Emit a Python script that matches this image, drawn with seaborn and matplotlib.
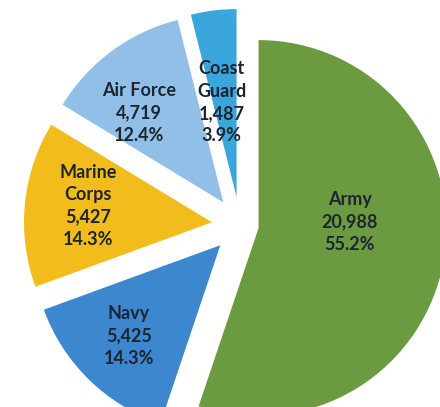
import numpy as np
import matplotlib
matplotlib.use("Agg")
import matplotlib.pyplot as plt
import seaborn as sns

# service branches, clockwise from 12 o'clock
branches = ["Army", "Navy", "Marine\nCorps", "Air Force", "Coast\nGuard"]
counts = [20988, 5425, 5427, 4719, 1487]
pcts = ["55.2%", "14.3%", "14.3%", "12.4%", "3.9%"]
colors = ["#6b9a40", "#3d87cf", "#f2bd1c", "#92bfe8", "#3aa6dc"]

explode = [0.10, 0.15, 0.15, 0.15, 0.15]
# label placement: distance from wedge tip and angle tweak (deg) vs. mid-angle
label_r = [0.485, 0.685, 0.665, 0.655, 0.51]
label_dang = [13, -1, -2, 7, 2]

sns.set_style("white")
plt.rcParams["font.family"] = ["Lato", "DejaVu Sans"]

fig = plt.figure(figsize=(4.4, 4.07), dpi=100)
ax = fig.add_axes([0, 0, 1, 1])

wedges, _ = ax.pie(
    counts,
    colors=colors,
    startangle=90,
    counterclock=False,
    explode=explode,
    radius=1.0,
    wedgeprops={"linewidth": 0},
)

for w, name, n, p, r, da in zip(wedges, branches, counts, pcts, label_r, label_dang):
    mid = np.deg2rad((w.theta1 + w.theta2) / 2 + da)
    cx, cy = w.center
    ax.text(cx + r * np.cos(mid), cy + r * np.sin(mid),
            f"{name}\n{n:,}\n{p}",
            ha="center", va="center", fontsize=13, fontweight="bold",
            color="#1c2530", linespacing=1.38)

ax.set_aspect("equal")
ax.set_xlim(-1.277, 1.064)
ax.set_ylim(-0.968, 1.197)
ax.axis("off")

fig.savefig("out.png", dpi=100)
